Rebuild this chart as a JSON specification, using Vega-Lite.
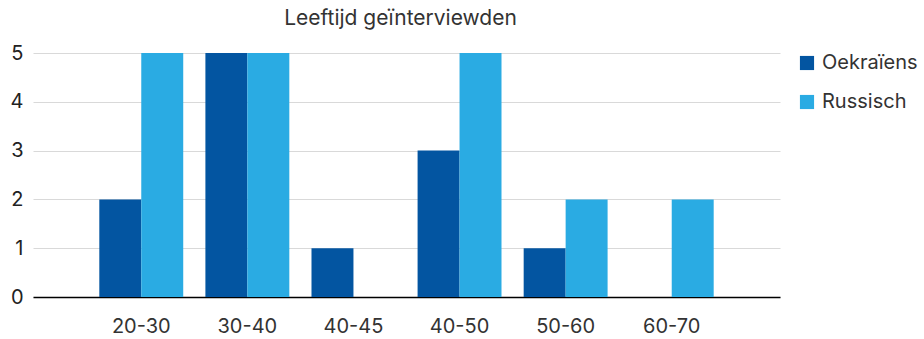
{
  "$schema": "https://vega.github.io/schema/vega-lite/v6.json",
  "autosize": "none",
  "width": 747,
  "height": 244,
  "padding": {"left": 33, "top": 53, "right": 144, "bottom": 42},
  "background": "white",
  "title": {"text": "Leeftijd geïnterviewden", "font": "Inter", "fontSize": 21, "fontWeight": "normal", "color": "#333333", "anchor": "middle", "offset": 14, "dx": -6},
  "data": {"values": [
    {"leeftijd": "20-30", "groep": "Oekraïens", "aantal": 2},
    {"leeftijd": "20-30", "groep": "Russisch", "aantal": 5},
    {"leeftijd": "30-40", "groep": "Oekraïens", "aantal": 5},
    {"leeftijd": "30-40", "groep": "Russisch", "aantal": 5},
    {"leeftijd": "40-45", "groep": "Oekraïens", "aantal": 1},
    {"leeftijd": "40-45", "groep": "Russisch", "aantal": 0},
    {"leeftijd": "40-50", "groep": "Oekraïens", "aantal": 3},
    {"leeftijd": "40-50", "groep": "Russisch", "aantal": 5},
    {"leeftijd": "50-60", "groep": "Oekraïens", "aantal": 1},
    {"leeftijd": "50-60", "groep": "Russisch", "aantal": 2},
    {"leeftijd": "60-70", "groep": "Oekraïens", "aantal": 0},
    {"leeftijd": "60-70", "groep": "Russisch", "aantal": 2}
  ]},
  "mark": {"type": "bar"},
  "encoding": {
    "x": {"field": "leeftijd", "type": "nominal", "sort": null,
      "scale": {"paddingInner": 0.209, "paddingOuter": 0.625},
      "axis": {"title": null, "labelAngle": 0, "labelFont": "Inter", "labelFontSize": 20, "labelColor": "#333333", "labelPadding": 19, "ticks": false, "domainColor": "#000000", "domainWidth": 1.5}},
    "xOffset": {"field": "groep", "type": "nominal", "scale": {"padding": 0, "paddingInner": 0}},
    "y": {"field": "aantal", "type": "quantitative",
      "scale": {"domain": [0, 5], "nice": false},
      "axis": {"title": null, "values": [0, 1, 2, 3, 4, 5], "labelOverlap": false, "labelFont": "Inter", "labelFontSize": 20, "labelColor": "#222222", "labelPadding": 10, "ticks": false, "domain": false, "gridColor": "#d9d9d9", "gridWidth": 1}},
    "color": {"field": "groep", "type": "nominal",
      "scale": {"domain": ["Oekraïens", "Russisch"], "range": ["#0355a1", "#2aabe3"]},
      "legend": {"title": null, "orient": "none", "legendX": 764, "legendY": 0, "symbolType": "square", "symbolSize": 200, "symbolStrokeWidth": 0, "symbolOpacity": 1, "labelFont": "Inter", "labelFontSize": 20, "labelColor": "#333333", "rowPadding": 19, "labelOffset": 5}}
  },
  "config": {"view": {"stroke": null}}
}
